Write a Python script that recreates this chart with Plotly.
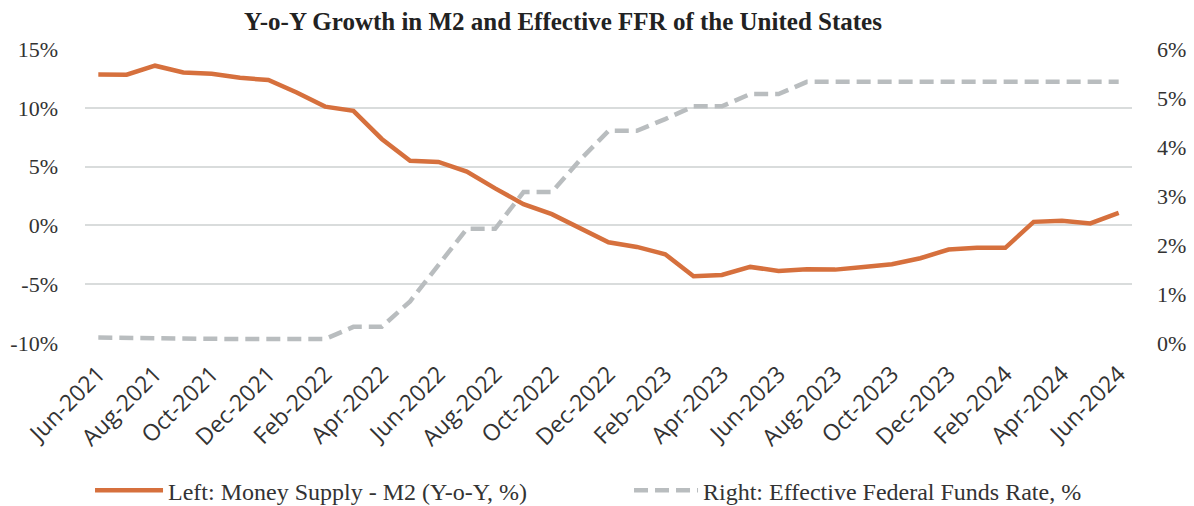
import plotly.graph_objects as go

months = ["Jun-2021","Jul-2021","Aug-2021","Sep-2021","Oct-2021","Nov-2021","Dec-2021",
          "Jan-2022","Feb-2022","Mar-2022","Apr-2022","May-2022","Jun-2022","Jul-2022",
          "Aug-2022","Sep-2022","Oct-2022","Nov-2022","Dec-2022","Jan-2023","Feb-2023",
          "Mar-2023","Apr-2023","May-2023","Jun-2023","Jul-2023","Aug-2023","Sep-2023",
          "Oct-2023","Nov-2023","Dec-2023","Jan-2024","Feb-2024","Mar-2024","Apr-2024",
          "May-2024","Jun-2024"]

m2_yoy = [12.83, 12.82, 13.58, 13.0, 12.9, 12.55, 12.36,
          11.3, 10.1, 9.74, 7.35, 5.5, 5.4, 4.57,
          3.15, 1.81, 0.96, -0.2, -1.43, -1.83, -2.45,
          -4.33, -4.21, -3.53, -3.87, -3.73, -3.76, -3.53,
          -3.3, -2.79, -2.05, -1.91, -1.91, 0.3, 0.39,
          0.17, 1.07]

effr = [0.11, 0.10, 0.10, 0.08, 0.08, 0.08, 0.08,
        0.08, 0.08, 0.33, 0.33, 0.85, 1.60, 2.33,
        2.33, 3.08, 3.08, 3.74, 4.33, 4.33, 4.57,
        4.83, 4.83, 5.08, 5.08, 5.33, 5.33, 5.33,
        5.33, 5.33, 5.33, 5.33, 5.33, 5.33, 5.33,
        5.33, 5.33]

left_ticks = [-10, -5, 0, 5, 10, 15]
left_labels = ["-10%", "-5%", "0%", "5%", "10%", "15%"]
right_ticks = [0, 1, 2, 3, 4, 5, 6]
right_labels = ["0%", "1%", "2%", "3%", "4%", "5%", "6%"]

x = list(range(len(months)))
tick_idx = x[::2]
tick_text = months[::2]

SERIF = "Liberation Serif, Times New Roman, serif"
TXT = "#333333"

fig = go.Figure()
fig.add_trace(go.Scatter(
    x=x, y=m2_yoy, mode="lines", name="Left: Money Supply - M2 (Y-o-Y, %)",
    line=dict(color="#D6703D", width=4.5), yaxis="y", legend="legend"))
fig.add_trace(go.Scatter(
    x=x, y=effr, mode="lines", name="Right: Effective Federal Funds Rate, %",
    line=dict(color="#B9BDBF", width=4.5, dash="14px,7px"), yaxis="y2", legend="legend2"))

legend_common = dict(orientation="h", yanchor="middle", y=-0.502,
                     font=dict(family=SERIF, size=24, color=TXT),
                     bgcolor="rgba(0,0,0,0)")

fig.update_layout(
    width=1194, height=506,
    margin=dict(l=85, r=62, t=49, b=163, autoexpand=False),
    paper_bgcolor="white", plot_bgcolor="white",
    title=dict(text="<b>Y-o-Y Growth in M2 and Effective FFR of the United States</b>",
               x=0.4715, xanchor="center", y=0.958, yanchor="middle",
               font=dict(family=SERIF, size=25, color="#222222")),
    xaxis=dict(range=[-0.47, 36.47], tickmode="array", tickvals=tick_idx, ticktext=tick_text,
               tickangle=-45, showgrid=False, zeroline=False, showline=False,
               tickfont=dict(family="Open Sans, sans-serif", size=23, color=TXT),
               ticks="", automargin=False, ticklabelstandoff=12),
    yaxis=dict(range=[-10, 15], tickmode="array", tickvals=left_ticks, ticktext=left_labels,
               showgrid=True, gridcolor="#D9DCDC", gridwidth=1.5, zeroline=False,
               tickfont=dict(family=SERIF, size=22, color=TXT), ticks="",
               ticklabelstandoff=26, automargin=False),
    yaxis2=dict(range=[0, 6], tickmode="array", tickvals=right_ticks, ticktext=right_labels,
                overlaying="y", side="right", showgrid=False, zeroline=False,
                tickfont=dict(family=SERIF, size=22, color=TXT), ticks="",
                ticklabelstandoff=24, automargin=False),
    legend=dict(x=0.0048, xanchor="left", itemwidth=68, **legend_common),
    legend2=dict(x=0.5196, xanchor="left", itemwidth=64, **legend_common),
    showlegend=True,
)

fig.write_html("out.html", config={"displayModeBar": False},
               post_script="document.body.style.margin='0';document.body.style.padding='0';")
